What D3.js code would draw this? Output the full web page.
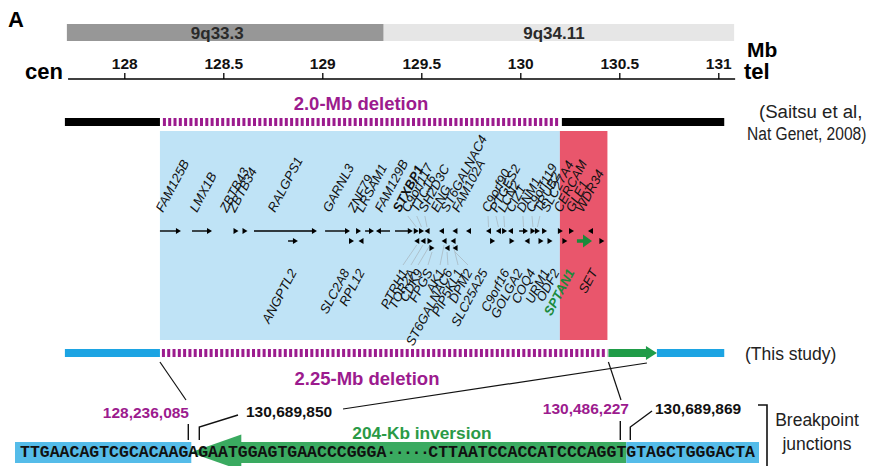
<!DOCTYPE html>
<html>
<head>
<meta charset="utf-8">
<script src="https://cdn.jsdelivr.net/npm/d3@7"></script>
<style>
  body { margin: 0; background: #fff; }
  svg { display: block; font-family: Arial, "Liberation Sans", sans-serif; }
</style>
</head>
<body>
<div id="chart"></div>
<script>
/*********************************
     9q33.3-q34.11 DELETION MAP
 *********************************/

// Cytobands (Mb)
const bandNames = ["9q33.3", "9q34.11"];
const bandStart = [127.71, 129.31];
const bandEnd = [129.31, 131.08];

// Axis
const axisTicks = [128, 128.5, 129, 129.5, 130, 130.5, 131];
const axisExtent = [127.716, 131.085];

// Deletion bars (Mb)
const saitsuType = ["normal", "deleted", "normal"];
const saitsuStart = [127.70, 128.195, 130.21];
const saitsuEnd = [128.18, 130.20, 131.03];

const studyType = ["normal", "deleted", "inverted", "normal"];
const studyStart = [127.70, 128.19, 130.445, 130.69];
const studyEnd = [128.18, 130.44, 130.69, 131.03];

// Shaded regions (Mb)
const commonRegion = [128.18, 130.20];
const extraRegion = [130.20, 130.44];

// Genes: name, start, end, strand, row, label side, label position (Mb)
const geneNames = ["FAM125B","LMX1B","ZBTB43","ZBTB34","RALGPS1","GARNL3","ZNF79","LRSAM1","FAM129B","STXBP1",
  "C9orf117","TTC16","SH2D3C","ENG","ST6GALNAC4","FAM102A","C9orf90","PTGES2","LCN2","CIZ1",
  "DNM1","C9orf119","TRUB2","SLC27A4","CERCAM","GLE1","WDR34",
  "ANGPTL2","SLC2A8","RPL12","PTRH1","TOR2A","CDK9","FPGS","AK1","ST6GALNAC6","PIP5KL1","DPM2",
  "SLC25A25","C9orf16","GOLGA2","COQ4","URM1","ODF2","SPTAN1","SET"];
const geneStart = [128.180,128.342,128.554,128.594,128.655,129.014,129.170,129.216,129.271,129.367,
  129.467,129.493,129.519,129.594,129.660,129.721,129.832,129.882,129.913,129.938,
  129.994,130.059,130.079,130.115,130.195,130.251,130.347,
  128.827,129.135,129.185,129.467,129.498,129.534,129.544,129.605,129.620,129.650,129.660,
  129.847,129.948,130.024,130.094,130.140,130.215,130.286,130.402];
const geneEnd = [128.286,128.443,128.574,128.625,128.973,129.140,129.196,129.261,129.342,129.457,
  129.482,129.509,129.539,129.610,129.680,129.756,129.847,129.897,129.928,129.963,
  130.039,130.069,130.094,130.130,130.210,130.266,130.362,
  128.877,129.160,129.206,129.487,129.519,129.554,129.564,129.625,129.640,129.671,129.681,
  129.873,129.968,130.044,130.115,130.160,130.235,130.362,130.422];
const geneStrand = [1,1,1,1,1,1,1,1,-1,1,
  1,1,-1,-1,-1,-1,-1,-1,1,-1,
  1,1,1,1,1,1,-1,
  1,1,-1,-1,-1,1,1,-1,-1,-1,-1,
  1,1,-1,1,1,1,1,1];
const geneRow = [0,0,0,0,0,0,0,0,0,0,
  0,0,0,0,0,0,0,0,0,0,
  0,0,0,0,0,0,0,
  1,1,1,1,1,1,2,1,2,1,2,
  1,1,1,1,1,1,1,1];
const geneSide = geneNames.map((d, i) => i < 27 ? "up" : "down");
const geneLabelMb = [128.195,128.367,128.519,128.559,128.761,129.039,129.165,129.206,129.301,129.392,
  129.437,129.482,129.523,129.584,129.634,129.690,129.842,129.882,129.922,129.963,
  130.018,130.064,130.104,130.140,130.205,130.266,130.317,
  128.873,129.140,129.216,129.433,129.473,129.509,129.559,129.620,129.660,129.711,129.761,
  129.837,129.948,130.014,130.079,130.150,130.200,130.276,130.392];
const linkedGenes = ["C9orf117","TTC16","SH2D3C","C9orf90","PTGES2","LCN2","DNM1","C9orf119","TRUB2",
  "PTRH1","TOR2A","CDK9","FPGS","AK1","ST6GALNAC6","PIP5KL1","DPM2"];

// Breakpoint junction sequence
const seqParts = ["TTGAACAGTCGCACAAG", "AGAATGGAGTGAACCCGGGA", "\u00b7\u00b7\u00b7\u00b7\u00b7", "CTTAATCCACCATCCCAGGT", "GTAGCTGGGACTA"];
const breakpointLabels = ["128,236,085", "130,689,850", "130,486,227", "130,689,869"];

// Colours
const purple = "#9c1b8e", blueBar = "#1ca4e3", greenBar = "#1f9c48";

// Render SVG
const W = 869, H = 466;
const svg = d3.select("#chart").append("svg").attr("width", W).attr("height", H);
const x = d3.scaleLinear().domain([128, 131]).range([124.3, 718.3]);

// Panel letter
svg.append("text").text("A").attr("x", 8).attr("y", 27).attr("font-size", 22).attr("font-weight", "bold");

// Cytoband ideogram
bandNames.forEach((b, i) => {
  svg.append("rect").attr("x", x(bandStart[i])).attr("y", 24).attr("width", x(bandEnd[i]) - x(bandStart[i])).attr("height", 17)
    .attr("fill", i === 0 ? "#979797" : "#e6e6e6");
  svg.append("text").text(b).attr("x", (x(bandStart[i]) + x(bandEnd[i])) / 2 - (i === 0 ? 8 : 5)).attr("y", 38.5)
    .attr("text-anchor", "middle").attr("font-size", 17).attr("font-weight", "bold").attr("fill", "#2a2a2a");
});

// Axis
const axis = d3.axisTop(x).tickValues(axisTicks).tickSize(6).tickPadding(4).tickFormat(d => d);
const gAxis = svg.append("g").attr("transform", "translate(0,79)").call(axis);
gAxis.select(".domain").remove();
gAxis.selectAll("line").attr("stroke", "#000").attr("stroke-width", 1.3);
gAxis.selectAll("text").attr("font-size", 15.5).attr("font-weight", "bold").attr("font-family", "Arial, 'Liberation Sans', sans-serif").attr("fill", "#111");
svg.append("line").attr("x1", x(axisExtent[0])).attr("x2", x(axisExtent[1])).attr("y1", 79).attr("y2", 79).attr("stroke", "#000").attr("stroke-width", 1.5);
svg.append("text").text("cen").attr("x", 63).attr("y", 79).attr("text-anchor", "end").attr("font-size", 22).attr("font-weight", "bold");
svg.append("text").text("tel").attr("x", 744).attr("y", 79).attr("font-size", 22).attr("font-weight", "bold");
svg.append("text").text("Mb").attr("x", 747).attr("y", 57).attr("font-size", 21).attr("font-weight", "bold");

// Shaded gene region
svg.append("rect").attr("x", x(commonRegion[0])).attr("y", 131).attr("width", x(commonRegion[1]) - x(commonRegion[0])).attr("height", 209).attr("fill", "#bfe3f6");
svg.append("rect").attr("x", x(extraRegion[0])).attr("y", 131).attr("width", x(extraRegion[1]) - x(extraRegion[0])).attr("height", 209).attr("fill", "#e9566c");

// Deletion bars
function drawBar(types, starts, ends, cy, normalColour) {
  types.forEach((t, i) => {
    let x0 = x(starts[i]), x1 = x(ends[i]);
    if (t === "normal") {
      svg.append("rect").attr("x", x0).attr("y", cy - 4).attr("width", x1 - x0).attr("height", 8).attr("fill", normalColour);
    } else if (t === "deleted") {
      svg.append("line").attr("x1", x0).attr("x2", x1).attr("y1", cy).attr("y2", cy)
        .attr("stroke", purple).attr("stroke-width", 8).attr("stroke-dasharray", "3,2.3");
    } else {
      svg.append("rect").attr("x", x0).attr("y", cy - 4).attr("width", x1 - x0 - 10).attr("height", 8).attr("fill", greenBar);
      svg.append("path").attr("d", `M${x1 - 11},${cy - 7}L${x1},${cy}L${x1 - 11},${cy + 7}Z`).attr("fill", greenBar);
    }
  });
}
drawBar(saitsuType, saitsuStart, saitsuEnd, 122, "#000");
drawBar(studyType, studyStart, studyEnd, 353, blueBar);

svg.append("text").text("2.0-Mb deletion").attr("x", 361).attr("y", 110).attr("text-anchor", "middle")
  .attr("font-size", 18.5).attr("font-weight", "bold").attr("fill", purple);
svg.append("text").text("2.25-Mb deletion").attr("x", 367).attr("y", 385).attr("text-anchor", "middle")
  .attr("font-size", 18.5).attr("font-weight", "bold").attr("fill", purple);

// Citation texts (slightly condensed)
svg.append("text").text("(Saitsu et al,").attr("transform", "translate(759,118) scale(0.98,1)").attr("font-size", 19).attr("fill", "#222");
svg.append("text").text("Nat Genet, 2008)").attr("transform", "translate(747,140) scale(0.82,1)").attr("font-size", 19).attr("fill", "#222");
svg.append("text").text("(This study)").attr("x", 745).attr("y", 360).attr("font-size", 17.5).attr("fill", "#222");

// Genes
const rowY = [231, 241, 248];
const genes = geneNames.map((n, i) => ({ name: n, s: geneStart[i], e: geneEnd[i], strand: geneStrand[i], row: geneRow[i], side: geneSide[i], lab: geneLabelMb[i] }));

genes.forEach(g => {
  let y = rowY[g.row], x0 = x(g.s), x1 = x(g.e);
  let isGreen = g.name === "SPTAN1";
  let col = isGreen ? "#1a8a3a" : "#000";
  let hl = isGreen ? 9 : 5, hw = isGreen ? 6.5 : 3;
  let tip = g.strand > 0 ? x1 : x0, dir = g.strand;
  if (x1 - x0 > hl + 2) {
    svg.append("line").attr("x1", g.strand > 0 ? x0 : x0 + hl - 1).attr("x2", g.strand > 0 ? x1 - hl + 1 : x1)
      .attr("y1", y).attr("y2", y).attr("stroke", col).attr("stroke-width", isGreen ? 3.5 : 1.4);
  } else {
    tip = (x0 + x1) / 2 + dir * hl / 2;
  }
  svg.append("path").attr("d", `M${tip},${y}L${tip - dir * hl},${y - hw}L${tip - dir * hl},${y + hw}Z`).attr("fill", col);

  // Label
  let lx = x(g.lab), gx = (x0 + x1) / 2;
  let linked = linkedGenes.includes(g.name);
  let t;
  if (g.side === "up") {
    if (linked) svg.append("line").attr("x1", lx - 1).attr("y1", 216).attr("x2", gx).attr("y2", y - 4).attr("stroke", "#a9b9c2").attr("stroke-width", 0.8);
    t = svg.append("text").attr("transform", `translate(${lx},213) rotate(-62)`).attr("text-anchor", "start");
  } else {
    if (linked) svg.append("line").attr("x1", gx).attr("y1", y + 4).attr("x2", lx - 5).attr("y2", 265).attr("stroke", "#a9b9c2").attr("stroke-width", 0.8);
    t = svg.append("text").attr("transform", `translate(${lx},272) rotate(-62)`).attr("text-anchor", "end");
  }
  t.text(g.name).attr("font-size", 13).attr("font-style", "italic").attr("fill", isGreen ? "#1a8a3a" : "#111")
    .attr("font-weight", (g.name === "STXBP1" || isGreen) ? "bold" : "normal");
});

// Lines from bars to breakpoint labels
const lineCol = "#111";
svg.append("line").attr("x1", x(studyEnd[0])).attr("y1", 362).attr("x2", 186).attr("y2", 400).attr("stroke", lineCol).attr("stroke-width", 1.2);
svg.append("line").attr("x1", x(studyStart[2])).attr("y1", 362).attr("x2", 621).attr("y2", 400).attr("stroke", lineCol).attr("stroke-width", 1.2);
svg.append("line").attr("x1", 343).attr("y1", 409).attr("x2", x(studyEnd[2]) - 10).attr("y2", 363).attr("stroke", lineCol).attr("stroke-width", 1.2);

// Breakpoint numbers
svg.append("text").text(breakpointLabels[0]).attr("x", 189).attr("y", 418).attr("text-anchor", "end").attr("font-size", 15.5).attr("font-weight", "bold").attr("fill", purple);
svg.append("text").text(breakpointLabels[1]).attr("x", 246).attr("y", 417).attr("font-size", 15.5).attr("font-weight", "bold").attr("fill", "#111");
svg.append("text").text(breakpointLabels[2]).attr("x", 629).attr("y", 414).attr("text-anchor", "end").attr("font-size", 15.5).attr("font-weight", "bold").attr("fill", purple);
svg.append("text").text(breakpointLabels[3]).attr("x", 655).attr("y", 414).attr("font-size", 15.5).attr("font-weight", "bold").attr("fill", "#111");

// Junction sequence
const cw = 9.9, sx = 20, dotW = 8.4;
let pos = [sx];
seqParts.forEach((p, i) => pos.push(pos[i] + p.length * (i === 2 ? dotW : cw)));
const sy0 = 442, sy1 = 463, scy = (sy0 + sy1) / 2;

svg.append("rect").attr("x", sx - 5).attr("y", sy0).attr("width", pos[1] + 3 - (sx - 5)).attr("height", sy1 - sy0).attr("fill", "#55bce9");
svg.append("rect").attr("x", pos[1] + 52).attr("y", sy0).attr("width", pos[4] - pos[1] - 52).attr("height", sy1 - sy0).attr("fill", "#3aaa60");
svg.append("path").attr("d", `M${pos[1] + 2},${scy}L${pos[1] + 53},${scy - 18}L${pos[1] + 53},${scy + 18}Z`).attr("fill", "#3aaa60");
svg.append("rect").attr("x", pos[4]).attr("y", sy0).attr("width", pos[5] - pos[4] + 4).attr("height", sy1 - sy0).attr("fill", "#55bce9");

const seqText = svg.append("text").attr("y", 457).attr("font-family", "'Liberation Mono', 'Courier New', monospace")
  .attr("font-size", 16.5).attr("font-weight", "bold").attr("fill", "#111");
seqParts.forEach((p, i) => {
  seqText.append("tspan").attr("x", pos[i]).text(p).attr("letter-spacing", i === 2 ? dotW - cw : 0);
});

// Junction ticks
svg.append("line").attr("x1", pos[1]).attr("x2", pos[1]).attr("y1", 424).attr("y2", 440).attr("stroke", "#111").attr("stroke-width", 1.4);
svg.append("path").attr("d", `M${pos[1] + 11},440V427L238,415`).attr("fill", "none").attr("stroke", "#111").attr("stroke-width", 1.4);
svg.append("line").attr("x1", pos[4] - 6).attr("x2", pos[4] - 6).attr("y1", 421).attr("y2", 440).attr("stroke", "#111").attr("stroke-width", 1.4);
svg.append("path").attr("d", `M${pos[4] + 4},440V427L652,411`).attr("fill", "none").attr("stroke", "#111").attr("stroke-width", 1.4);

svg.append("text").text("204-Kb inversion").attr("x", 422).attr("y", 439).attr("text-anchor", "middle")
  .attr("font-size", 17.3).attr("font-weight", "bold").attr("fill", "#2a9a46");

// Breakpoint junctions bracket
svg.append("path").attr("d", "M758,405H767V466").attr("fill", "none").attr("stroke", "#111").attr("stroke-width", 1.6);
svg.append("text").text("Breakpoint").attr("x", 817).attr("y", 426).attr("text-anchor", "middle").attr("font-size", 17.5).attr("fill", "#222");
svg.append("text").text("junctions").attr("x", 817).attr("y", 450).attr("text-anchor", "middle").attr("font-size", 17.5).attr("fill", "#222");
</script>
</body>
</html>
